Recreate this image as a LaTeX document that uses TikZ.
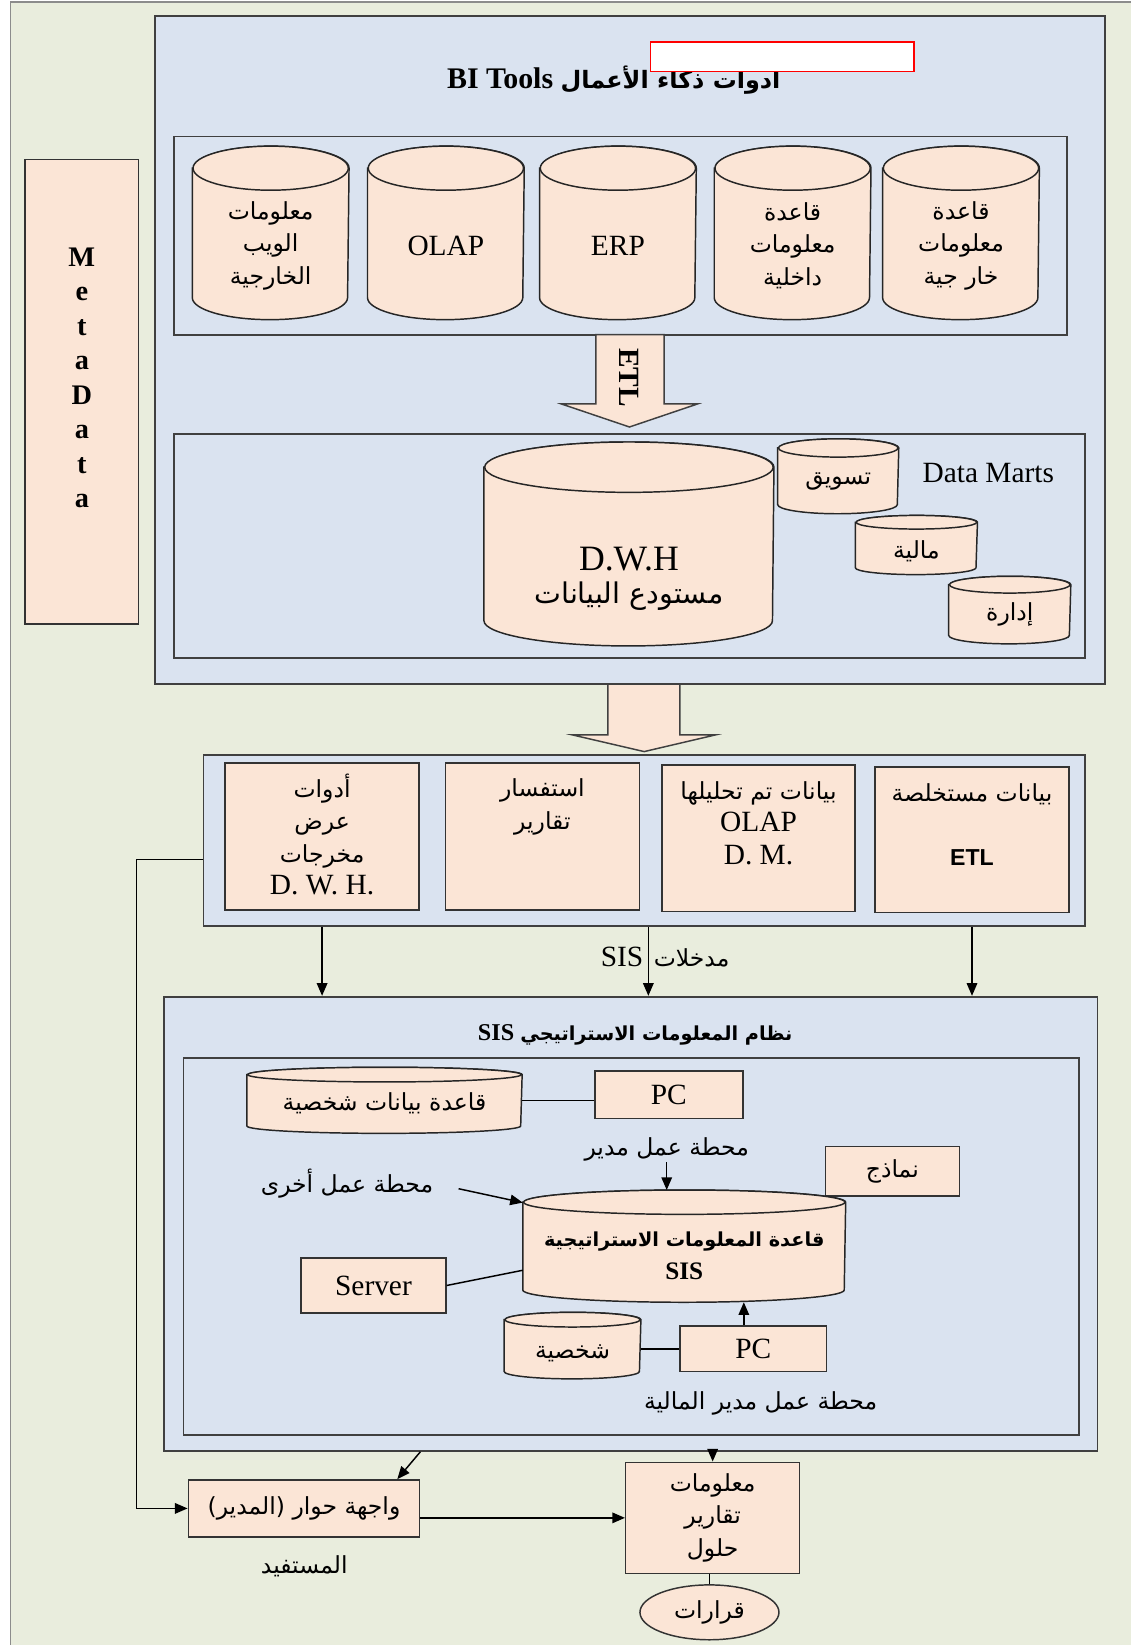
\documentclass[tikz,border=0pt]{standalone}
\usepackage{fontspec}
\setmainfont{Liberation Serif}
\setsansfont{Liberation Sans}
\newfontfamily\arabicfont[Script=Arabic,Scale=0.8]{DejaVu Sans}
\TeXXeTstate=1
\usetikzlibrary{positioning,shapes.geometric,arrows.meta}
\definecolor{bggreen}{RGB}{233,237,221}
\definecolor{panelblue}{RGB}{218,227,240}
\definecolor{peach}{RGB}{251,229,214}
\newcommand{\artxt}[1]{{\arabicfont\beginR #1\endR}}
% name, x, y, width, height, end radius, text shift, text
\newcommand{\dbcan}[8]{%
  \node[canbox, minimum width=#4pt, minimum height=#5pt] (#1) at (#2,#3) {};
  \filldraw[dbline] ([yshift=-#6pt]#1.north west) -- ([yshift=#6pt]#1.south west)
    arc[start angle=180, end angle=360, x radius=#4pt/2, y radius=#6pt]
    -- ([yshift=-#6pt]#1.north east)
    arc[start angle=0, end angle=180, x radius=#4pt/2, y radius=#6pt] -- cycle;
  \draw[dbline] ([yshift=-#6pt]#1.north) ellipse [x radius=#4pt/2, y radius=#6pt];
  \node[dbtext] (#1text) at ([yshift=-#7pt]#1.center) {#8};
}

\begin{document}
\begin{tikzpicture}[x=1pt, y=-1pt, >={Triangle[length=12pt,width=10pt]}, line width=1.4pt,
    font=\fontsize{28}{31}\selectfont,
    panel/.style={draw=black!75, fill=panelblue, line width=1.6pt},
    itembox/.style={draw=black!80, fill=peach, inner sep=0pt, align=center},
    canbox/.style={rectangle, inner sep=0pt},
    dbline/.style={draw=black!85, fill=peach},
    dbtext/.style={align=center, inner sep=0pt},
    toptext/.style={anchor=north, align=center, inner sep=0pt, yshift=-10pt},
    plain/.style={inner sep=0pt, align=center},
    fatarrow/.style={draw=black!75, fill=peach, line join=miter}]
    % Page and background
    \useasboundingbox (0,0) rectangle (1078,1568);
    \clip (0,0) rectangle (1078,1568);
    \filldraw[fill=bggreen, draw=black!45, line width=1.2pt] (10,2) rectangle (1100,1600);

    % MetaData
    \node[itembox, minimum width=108pt, minimum height=443pt] (meta) at (78,373.5) {};
    \node[plain, font=\fontsize{27}{32.9}\selectfont\bfseries] (metatext) at (78,360) {M\\e\\t\\a\\D\\a\\t\\a};

    % BI tools
    \node[panel, minimum width=905pt, minimum height=637pt] (bipanel) at (600.5,333.5) {};
    \node[plain, font=\fontsize{28.5}{34}\selectfont\bfseries] (bititle) at (585,76)
        {\beginR{\arabicfont أدوات ذكاء الأعمال} \beginL BI Tools\endL\endR};
    \draw[red, fill=white, line width=1.5pt] (620,40) rectangle (871,68);

    % Sources
    \node[panel, minimum width=851pt, minimum height=189pt] (srcpanel) at (591.5,224.5) {};
    \dbcan{web}{258}{222}{148}{164}{21}{12}{\artxt{معلومات}\\\artxt{الويب}\\\artxt{الخارجية}}
    \dbcan{olap}{425}{222}{148}{164}{21}{12}{OLAP}
    \dbcan{erp}{589}{222}{148}{164}{21}{12}{ERP}
    \dbcan{intdb}{755.5}{222}{148}{164}{21}{12}{\artxt{قاعدة}\\\artxt{معلومات}\\\artxt{داخلية}}
    \dbcan{extdb}{916}{222}{148}{164}{21}{12}{\artxt{قاعدة}\\\artxt{معلومات}\\{\arabicfont\beginR خار جية\endR}}

    % ETL arrow
    \draw[fatarrow] (568,319) -- (633,319) -- (633,385) -- (665,385) -- (600,407) -- (535,385) -- (568,385) -- cycle;
    \node[plain, rotate=-90, font=\fontsize{28}{30}\selectfont\bfseries] (etl) at (600,360) {ETL};

    % Warehouse and data marts
    \node[panel, minimum width=868pt, minimum height=213pt] (dwhpanel) at (600,520.5) {};
    \dbcan{dwh}{599.5}{518.5}{275}{193}{24}{33}{{\fontsize{34}{37}\selectfont D.W.H}\\{\arabicfont\fontsize{34}{37}\selectfont\beginR مستودع البيانات\endR}}
    \dbcan{mkt}{799}{454}{114}{70}{8.7}{5}{\artxt{تسويق}}
    \dbcan{fin}{873.5}{519.5}{115}{55}{6.5}{6}{\artxt{مالية}}
    \dbcan{adm}{962.5}{581.5}{115}{63}{8}{4}{\artxt{إدارة}}
    \node[plain] (dmlabel) at (942,451) {Data Marts};

    % Outputs
    \draw[fatarrow] (579.5,652) -- (648,652) -- (648,700.5) -- (682,700.5) -- (614,716.4) -- (545.6,700.5) -- (579.5,700.5) -- cycle;
    \node[panel, minimum width=840pt, minimum height=163pt] (outpanel) at (614,801.3) {};
    \node[itembox, minimum width=185pt, minimum height=140pt,
        label={[toptext]north:\artxt{أدوات}\\\artxt{عرض}\\\artxt{مخرجات}\\D. W. H.}] (viewtools) at (307,797.5) {};
    \node[itembox, minimum width=185pt, minimum height=140pt,
        label={[toptext, yshift=-5pt]north:\artxt{استفسار}\\\artxt{تقارير}}] (query) at (517,797.5) {};
    \node[itembox, minimum width=184pt, minimum height=140pt,
        label={[toptext, yshift=-6pt]north:{\arabicfont\beginR بيانات تم تحليلها\endR}\\OLAP\\D. M.}] (olapdm) at (723,799) {};
    \node[itembox, minimum width=185pt, minimum height=139pt,
        label={[toptext, yshift=-6pt]north:{\arabicfont\beginR بيانات مستخلصة\endR}\\[30pt]{\sffamily\bfseries\fontsize{22}{26}\selectfont ETL}}] (etldata) at (926.5,800.5) {};

    % SIS
    \node[panel, minimum width=890pt, minimum height=433pt] (sispanel) at (601,1166.5) {};
    \node[plain, font=\fontsize{23}{28}\selectfont\bfseries] (sistitle) at (605.5,986.5)
        {\beginR{\arabicfont نظام المعلومات الاستراتيجي} \beginL SIS\endL\endR};
    \node[panel, minimum width=853.6pt, minimum height=359pt] (sisinner) at (601.8,1188.2) {};

    \dbcan{persdb}{366.5}{1048.8}{261}{61.6}{7}{3}{{\arabicfont\beginR قاعدة بيانات شخصية\endR}}
    \node[itembox, minimum width=141pt, minimum height=45pt] (pcmgr) at (637.5,1043.5) {PC};
    \node[plain] (mgrws) at (635.5,1096) {{\arabicfont\beginR محطة عمل مدير\endR}};
    \node[itembox, minimum width=128pt, minimum height=47pt] (models) at (850.6,1116.5) {\artxt{نماذج}};
    \node[plain] (otherws) at (330.8,1128) {{\arabicfont\beginR محطة عمل أخرى\endR}};
    \dbcan{sisdb}{652.2}{1187.8}{306.4}{105.6}{11.6}{9}{{\bfseries\fontsize{23}{33}\selectfont\arabicfont\beginR قاعدة المعلومات الاستراتيجية\endR}\\{\bfseries\fontsize{24}{33}\selectfont SIS}}
    \node[itembox, minimum width=138pt, minimum height=52.6pt] (server) at (356,1225.3) {Server};
    \dbcan{persdb2}{545.7}{1282.6}{129}{62}{7}{7}{\artxt{شخصية}}
    \node[itembox, minimum width=140pt, minimum height=43.4pt] (pcfin) at (718,1285.7) {PC};
    \node[plain] (finws) at (725,1337.4) {{\arabicfont\beginR محطة عمل مدير المالية\endR}};

    % Inside SIS
    \draw (persdb.east) -- (persdb.east -| pcmgr.west);
    \draw[->] (mgrws.south) -- (mgrws.south |- sisdb.north);
    \draw[->, shorten <=24pt] (otherws.east) -- ([yshift=-12pt]sisdb.north west);
    \draw (server.east) -- ([yshift=-23pt]sisdb.west);
    \draw (persdb2.east |- pcfin.west) -- (pcfin.west);
    \draw[->] ([xshift=-9pt]pcfin.north) -- ([xshift=-9pt]pcfin.north |- sisdb.south);

    % SIS inputs
    \draw[->] (viewtools |- outpanel.south) -- (viewtools |- sispanel.north);
    \draw[->] ([xshift=4pt]outpanel.south) -- ([xshift=4pt]outpanel.south |- sispanel.north);
    \draw[->] (etldata |- outpanel.south) -- (etldata |- sispanel.north);
    \node[plain] (sisin) at (634,912) {\beginR{\arabicfont مدخلات}\hspace{10pt}\beginL SIS\endL\endR};

    % Manager and results
    \node[itembox, minimum width=220.5pt, minimum height=54.4pt] (dialog) at (289.75,1437.8) {{\arabicfont\beginR واجهة حوار (المدير)\endR}};
    \node[plain] (benef) at (290,1493) {\artxt{المستفيد}};
    \node[itembox, minimum width=165.8pt, minimum height=105.8pt] (info) at (679.3,1446.7)
        {\artxt{معلومات}\\\artxt{تقارير}\\\artxt{حلول}};
    \node[ellipse, draw=black!80, fill=peach, minimum width=132.5pt, minimum height=52.3pt, inner sep=0pt] (decide) at (676.25,1536.85) {\artxt{قرارات}};

    \draw[->] ([yshift=-18pt]outpanel.west) -- ++(-63,0) |- (dialog.west);
    \draw[->] (dialog.east |- sispanel.south) -- ([xshift=-22pt]dialog.north east);
    \draw[->] ([yshift=-9pt]dialog.east) -- ([yshift=-9pt]dialog.east -| info.west);
    \draw[->] (info.north |- sispanel.south) -- (info.north);
    \draw (decide.north |- info.south) -- (decide.north);
\end{tikzpicture}
\end{document}
